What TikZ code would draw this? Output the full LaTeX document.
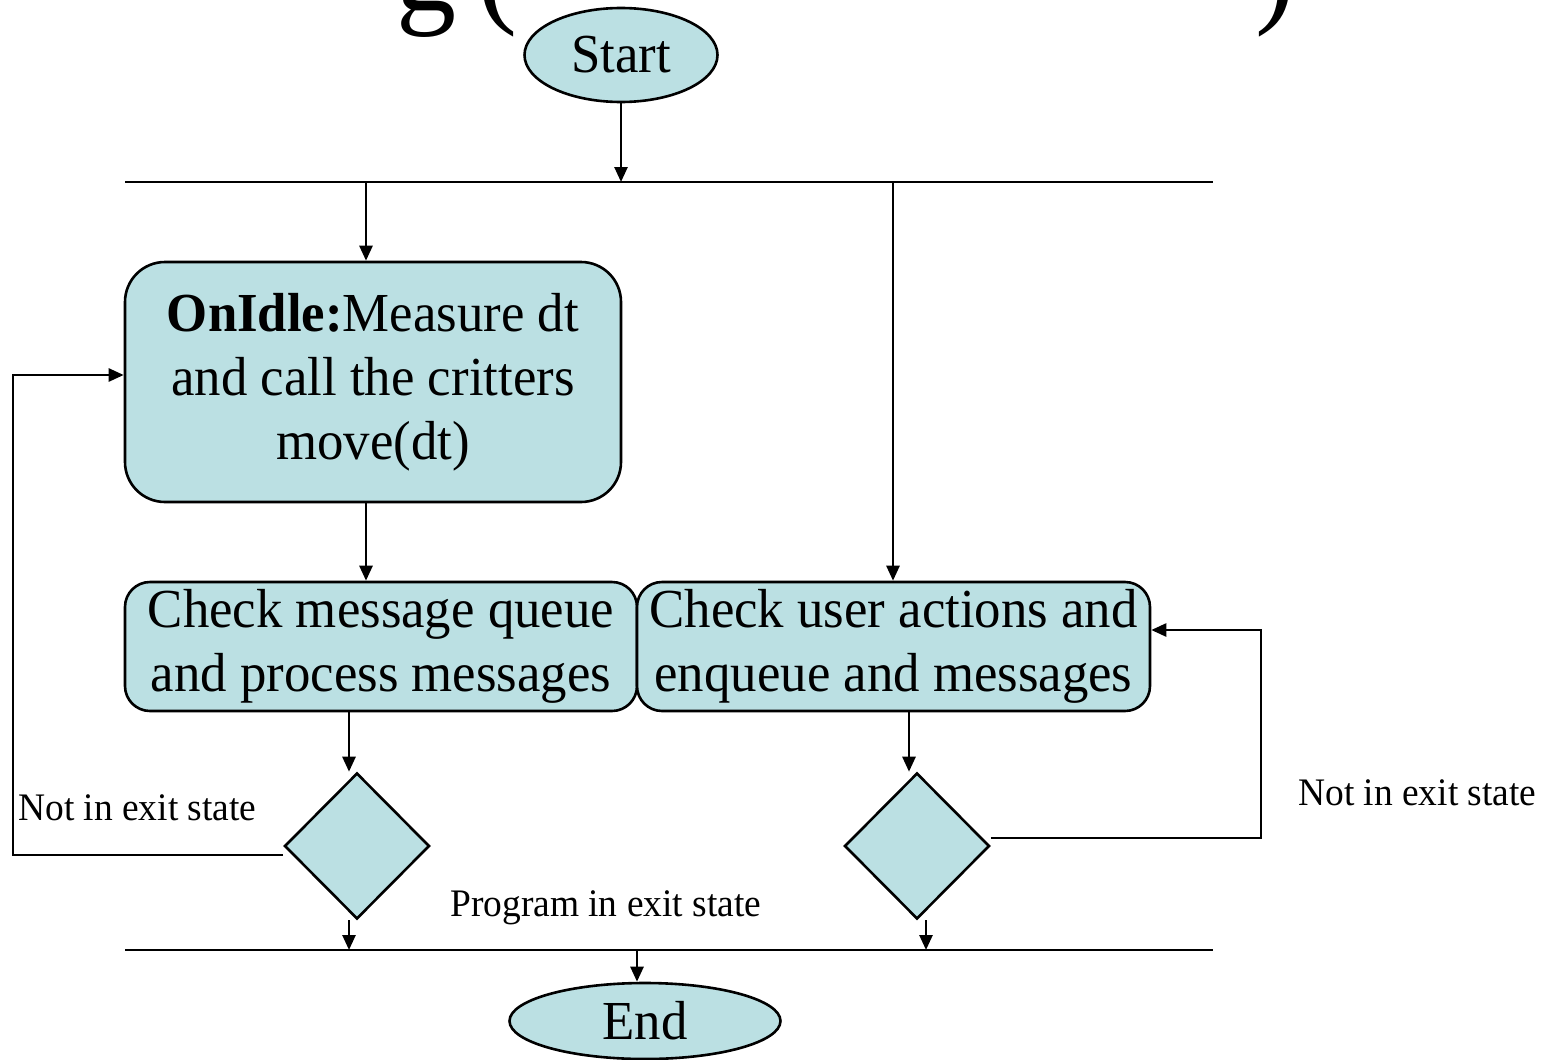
\documentclass[tikz,border=0pt]{standalone}
\usepackage{fontspec}
\setmainfont[FakeStretch=0.96]{Liberation Serif}
\usetikzlibrary{shapes.geometric, arrows.meta}

\definecolor{boxfill}{RGB}{187,224,227}

\begin{document}
\begin{tikzpicture}[x=1pt, y=-1pt, line width=2.6pt,
    every node/.style={font=\fontsize{55}{64}\selectfont},
    oval/.style={draw, ellipse, fill=boxfill, inner sep=0pt},
    task/.style={draw, fill=boxfill, align=center, inner sep=0pt},
    choice/.style={draw, diamond, fill=boxfill, inner sep=0pt, minimum width=145pt, minimum height=146pt},
    flow/.style={-{Triangle[length=15pt, width=13pt]}},
    note/.style={font=\fontsize{39}{46}\selectfont, inner sep=0pt}]
    \useasboundingbox (0,0) rectangle (1550,1060);

    % title, cut off by the page
    \node[font=\fontsize{125}{125}\selectfont, anchor=base west, inner sep=0pt] (ttla) at (395,10) {g\,(};
    \node[font=\fontsize{125}{125}\selectfont, anchor=base west, inner sep=0pt] (ttlb) at (1254,10) {)};

    \node[oval, minimum width=193pt, minimum height=94pt] (start) at (621,55) {Start};
    \node[task, rounded corners=40pt, minimum width=496pt, minimum height=240pt] (idle) at (373,382) {\textbf{OnIdle:}Measure dt\\and call the critters\\move(dt)};
    \node[task, rounded corners=25pt, minimum width=512pt, minimum height=129pt] (queue) at (381,646.5) {Check message queue\\and process messages};
    \node[task, rounded corners=25pt, minimum width=513pt, minimum height=129pt] (user) at (893.5,646.5) {Check user actions and\\enqueue and messages};
    \node[choice] (dl) at (357,846) {};
    \node[choice] (dr) at (917,846) {};
    \node[oval, minimum width=271pt, minimum height=76pt] (end) at (645,1021) {End};

    % fork and join bars
    \coordinate (bta) at (125,182);
    \coordinate (btb) at (1213,182);
    \coordinate (bba) at (125,950);
    \coordinate (bbb) at (1213,950);
    \coordinate (fka) at (366,182);
    \coordinate (fkb) at (893,182);
    \coordinate (raila) at (13,0);
    \coordinate (railb) at (1261,0);
    \draw (bta) -- (btb);
    \draw (bba) -- (bbb);

    \draw[flow] (start.south) -- (start.south |- bta);
    \draw[flow] (fka) -- (fka |- idle.north);
    \draw[flow] (fkb) -- (fkb |- user.north);
    \draw[flow] (idle.south -| fka) -- (fka |- queue.north);
    \draw[flow] ([xshift=-32pt]queue.south) -- ([xshift=-32pt]queue.south |- dl.north);
    \draw[flow] ([xshift=15.5pt]user.south) -- ([xshift=15.5pt]user.south |- dr.north);
    \draw[flow] ([xshift=-8pt]dl.south) -- ([xshift=-8pt]dl.south |- bba);
    \draw[flow] ([xshift=9pt]dr.south) -- ([xshift=9pt]dr.south |- bba);
    \draw[flow] ([xshift=-8pt]end.north |- bba) -- ([xshift=-8pt]end.north);

    % loops back
    \draw[flow] ([yshift=-9pt]dl.west) -- ([yshift=-9pt]dl.west -| raila) |- ([yshift=7pt]idle.west);
    \draw[flow] ([yshift=8pt]dr.east) -- ([yshift=8pt]dr.east -| railb) |- ([yshift=16.5pt]user.east);

    \node[note, anchor=base west] (nla) at (17,820) {Not in exit state};
    \node[note, anchor=base west] (nlb) at (1297,805) {Not in exit state};
    \node[note, anchor=base west] (pex) at (449,916) {Program in exit state};
\end{tikzpicture}
\end{document}
